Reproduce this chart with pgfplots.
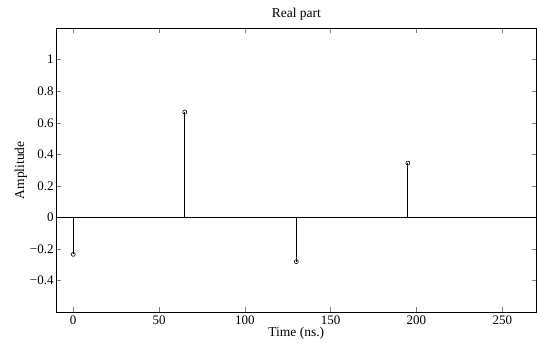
\documentclass[border=0pt]{standalone}
\usepackage{fontspec}
\setmainfont{Liberation Serif}
\usepackage{pgfplots}
\pgfplotsset{compat=1.18}
\begin{document}
\begin{tikzpicture}
\begin{axis}[
  scale only axis,
  width=480pt, height=284pt,
  xmin=-10, xmax=270, ymin=-0.6, ymax=1.2,
  xtick={0,50,100,150,200,250},
  ytick={-0.4,-0.2,0,0.2,0.4,0.6,0.8,1},
  yticklabels={−0.4,−0.2,0,0.2,0.4,0.6,0.8,1},
  tick align=inside,
  major tick length=5pt,
  axis line style={line width=0.8pt},
  tick style={line width=0.6pt},
  /pgf/number format/assume math mode=true,
  ticklabel style={font=\fontsize{13}{15}\selectfont},
  yticklabel style={xshift=1pt},
  title={Real part},
  every axis title/.style={at={(axis description cs:0.5,1.049)}, anchor=center, font=\fontsize{13.5}{15}\selectfont},
  xlabel={Time (ns.)},
  xlabel style={at={(axis description cs:0.5,-0.072)}, anchor=center, font=\fontsize{13.5}{15}\selectfont},
  ylabel={Amplitude},
  ylabel style={at={(axis description cs:-0.073,0.5)}, anchor=center, font=\fontsize{13.5}{15}\selectfont},
]
\addplot[black, line width=0.8pt, no marks] coordinates {(-10,0) (270,0)};
\addplot[ycomb, black, line width=0.8pt, mark=o, mark size=2pt, mark options={line width=0.6pt}] coordinates {
  (0,-0.233) (65,0.668) (130,-0.279) (195,0.345)
};
\end{axis}
\path (-56pt,-36pt) rectangle (480pt,312pt);
\end{tikzpicture}
\end{document}
